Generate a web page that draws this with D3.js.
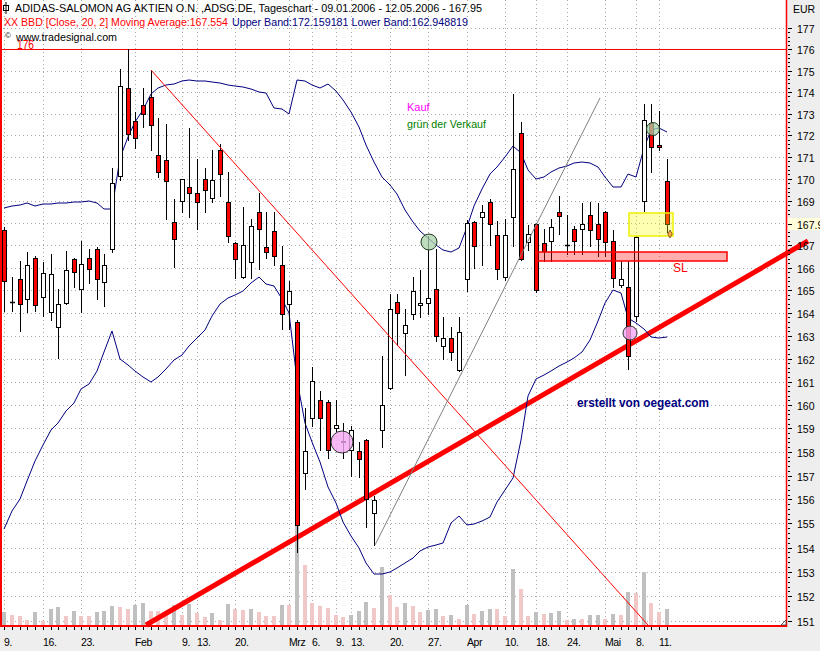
<!DOCTYPE html>
<html><head><meta charset="utf-8">
<script src="https://cdn.jsdelivr.net/npm/d3@7"></script>
<style>
body{margin:0;background:#eeeeee;}
svg{display:block;font-family:"Liberation Sans",Arial,sans-serif;}
</style>
</head><body>
<svg id="c" width="820" height="651"></svg>
<script>
// ---- data (trading days 09.01.2006 - 12.05.2006) ----
const opens = [167.7,164.5,165.5,164.6,166.45,164.7,164.06,163.4,164.45,166.4,
165.07,166.45,166.85,165.35,166.85,170.15,174.2,172.65,173.4,173.75,
171.1,170.85,168.05,168.97,169.65,169.35,169.97,169.15,171.3,168.95,
167.1,165.6,166.25,168.5,166.9,167.65,166.1,164.4,163.6,157.1,
159.45,160.2,160.15,159.0,158.45,158.1,158.03,158.5,155.45,158.95,
160.75,164.5,163.1,163.97,164.35,164.45,165.07,162.55,162.92,161.5,
165.5,168.05,168.25,168.95,167.45,165.6,168.25,172.1,167.15,167.95,
167.1,167.2,168.5,167.0,167.75,167.75,168.35,167.95,168.5,167.2,
165.25,165.15,163.85,168.97,172.55,171.55,169.9];
const highs = [167.8,165.6,166.3,166.7,166.5,166.25,166.6,165.07,166.75,166.45,
167.2,166.85,166.9,166.6,170.5,175.1,176.0,173.05,174.2,175.05,
172.8,172.5,169.1,170.0,172.35,170.9,170.5,171.3,171.6,170.3,
167.15,168.7,168.2,169.35,168.5,168.5,166.95,165.4,163.7,159.85,
161.65,160.6,160.2,160.2,159.25,159.1,158.4,158.55,156.15,162.1,
164.85,164.85,164.15,165.6,165.9,167.4,166.85,163.8,163.4,163.8,
168.15,168.1,168.8,169.1,168.1,168.2,173.9,172.6,167.9,168.0,
167.75,168.2,169.2,168.35,167.85,168.9,168.95,168.9,168.55,167.7,
166.3,166.3,167.4,173.45,173.45,173.1,170.9];
const lows = [164.1,164.1,163.2,164.05,164.1,163.85,163.7,162.03,164.4,165.15,
164.05,165.3,164.6,164.3,166.7,169.95,171.8,171.4,172.4,171.3,
170.1,168.2,166.05,168.5,168.25,167.75,168.5,168.95,169.2,167.15,
165.55,165.55,165.55,165.95,166.45,166.1,163.3,163.3,153.8,156.45,
159.1,158.1,157.75,158.9,157.75,157.0,156.95,154.85,154.1,158.2,
160.7,162.6,161.3,163.75,163.8,163.97,162.75,162.0,161.95,161.45,
164.95,166.0,166.1,167.0,165.5,165.45,166.95,166.35,166.8,164.93,
166.3,166.3,167.5,166.6,166.6,166.6,166.95,166.5,166.5,165.15,
165.15,161.55,163.65,168.55,170.3,171.3,167.6];
const closes = [165.4,164.5,164.4,166.1,164.35,165.75,165.7,164.4,165.9,165.8,
166.15,165.95,165.5,166.1,169.8,174.3,172.05,171.85,173.0,172.45,
170.3,169.9,167.3,169.97,169.35,168.95,169.5,169.93,170.2,167.4,
166.4,167.03,167.85,167.75,166.7,166.5,163.97,164.95,154.95,158.05,
161.05,159.45,158.1,159.15,158.4,158.95,157.7,156.0,155.97,159.98,
164.15,164.0,163.45,164.95,164.45,164.65,163.0,162.9,162.27,163.15,
168.0,166.95,168.5,167.95,165.95,167.45,170.45,166.4,167.5,165.0,
166.75,167.8,168.3,167.0,167.2,167.95,167.7,167.3,167.15,165.55,
165.5,162.1,167.35,172.7,171.45,171.45,167.95];
const volumes = [143,110,100,60,143,50,170,190,103,150,
103,100,143,153,200,187,167,207,233,153,
150,148,210,110,220,133,93,127,60,220,
170,160,170,143,103,100,213,210,1020,610,
233,200,183,110,93,110,153,240,183,593,
310,193,233,200,143,160,170,103,110,70,
210,120,153,170,165,103,570,370,100,137,
120,133,150,60,70,68,110,112,70,120,
110,340,333,540,227,143,170];
const upperBand = [168.68,168.77,168.83,168.9,168.77,168.84,168.87,168.89,168.9,168.93,
168.96,169.01,168.9,168.65,168.62,170.95,171.9,172.61,173.16,173.91,
174.19,174.35,174.37,174.53,174.54,174.53,174.51,174.48,174.42,174.35,
174.28,174.23,174.14,173.98,173.97,173.26,173.19,172.98,174.58,174.53,
174.35,174.17,174.36,174.05,173.63,173.07,172.37,171.54,170.76,170.08,
169.71,169.3,168.58,168.04,167.63,167.32,167.03,166.8,166.68,166.87,
167.81,168.76,169.53,170.24,170.53,170.99,171.52,171.17,170.4,169.99,
170.08,170.31,170.51,170.58,170.7,170.77,170.74,170.53,170.08,169.62,
169.63,170.21,170.09,171.4,172.24,172.31,172.16];
const lowerBand = [154.79,155.5,156.0,156.77,157.63,158.29,158.93,159.25,159.76,160.1,
160.67,160.92,161.48,162.28,163.22,162.0,161.73,161.46,161.19,161.0,
161.2,161.54,161.92,162.15,162.57,162.92,163.24,163.86,164.38,164.65,
164.8,164.98,165.33,165.58,165.27,165.2,164.63,163.99,161.07,159.21,
158.44,157.57,156.52,155.85,155.06,154.48,153.98,153.37,152.93,152.91,
152.98,153.16,153.37,153.59,153.86,154.02,154.11,154.17,155.0,155.29,
154.95,154.97,155.12,155.27,155.91,156.39,156.9,158.5,160.38,161.13,
161.31,161.46,161.7,161.87,162.04,162.3,162.83,163.66,164.45,165.02,
164.89,163.77,163.55,163.31,162.96,162.89,162.95];
const tickIdx = [0,5,10,17,23,25,30,37,40,43,45,50,55,60,65,69,73,78,82,85];
const tickLabels = ["9.","16.","23.","Feb","9.","13.","20.","Mrz","6.","9.","13.","20.","27.","Apr","10.","18.","24.","Mai","8.","11."];
const priceTicks = d3.range(151, 178);
const lastPrice = 167.95;
// drawn annotations: [dayIndex, price]
const downTrend = [[19, 175.05], [83.6, 150.85]];
const upTrend = [[18.44, 150.84], [104.3, 167.2]];
const grayTrend = [[48.1, 154.1], [77.3, 173.7]];
const buyMarks = [[43.77, 158.43, 11], [81.2, 163.13, 7]];
const sellMarks = [[55.14, 167.15, 8], [84.16, 172.28, 6.5]];
const slZone = [69.0, 93.8, 166.31, 166.71];
const yellowZone = [81.1, 86.75, 167.4, 168.45];
const hLine = 176;

// ---- scales ----
const x = d3.scaleLinear().domain([0, 86]).range([4.3, 666.9]).interpolate(d3.interpolateRound);
const y = d3.scaleLog().domain([151, 176]).range([621, 49.4]).interpolate(d3.interpolateRound);
const yv = d3.scaleLinear().domain([0, 1000]).range([626, 526]).interpolate(d3.interpolateRound);

const svg = d3.select("#c");
svg.append("rect").attr("width", 820).attr("height", 651).attr("fill", "#eeeeee");
svg.append("rect").attr("x", 2).attr("y", 0).attr("width", 784).attr("height", 625).attr("fill", "#ffffff");

// grid
const grid = svg.append("g").attr("stroke", "#a8a8a8").attr("stroke-dasharray", "1,3");
grid.selectAll("line.h").data(priceTicks).join("line")
  .attr("x1", 3).attr("x2", 786).attr("y1", d => y(d) + 0.5).attr("y2", d => y(d) + 0.5);
grid.selectAll("line.v").data(tickIdx).join("line")
  .attr("x1", d => x(d) + 0.5).attr("x2", d => x(d) + 0.5).attr("y1", 0).attr("y2", 625);

// volume
svg.append("g").selectAll("rect").data(volumes).join("rect")
  .attr("x", (d, i) => x(i) - 2).attr("width", 4)
  .attr("y", d => yv(d)).attr("height", d => 626 - yv(d))
  .attr("fill", (d, i) => (i === 0 || d > volumes[i - 1]) ? "#c0c0c0" : "#f0c8c8");

// 176 line
svg.append("line").attr("x1", 2).attr("x2", 786).attr("y1", y(hLine) + 0.5).attr("y2", y(hLine) + 0.5)
  .attr("stroke", "#ff0000").attr("stroke-width", 1);

// thick up trend
const lineXY = a => [x(a[0]), y(a[1])];
svg.append("line")
  .attr("x1", lineXY(upTrend[0])[0]).attr("y1", lineXY(upTrend[0])[1])
  .attr("x2", lineXY(upTrend[1])[0]).attr("y2", lineXY(upTrend[1])[1])
  .attr("stroke", "#ff0000").attr("stroke-width", 5);

// bands
const bandLine = d3.line().x((d, i) => x(i)).y(d => y(d));
svg.append("path").attr("d", bandLine(upperBand)).attr("fill", "none").attr("stroke", "#000080").attr("stroke-width", 1);
svg.append("path").attr("d", bandLine(lowerBand)).attr("fill", "none").attr("stroke", "#000080").attr("stroke-width", 1);

// candles
const cg = svg.append("g");
opens.forEach((o, i) => {
  const cx = x(i), c = closes[i];
  cg.append("line").attr("x1", cx + 0.5).attr("x2", cx + 0.5)
    .attr("y1", y(highs[i])).attr("y2", y(lows[i]) + 1).attr("stroke", "#000").attr("stroke-width", 1);
  const top = Math.min(y(o), y(c)), bot = Math.max(y(o), y(c));
  if (bot - top < 1) {
    cg.append("line").attr("x1", cx - 2).attr("x2", cx + 3).attr("y1", top + 0.5).attr("y2", top + 0.5)
      .attr("stroke", "#000").attr("stroke-width", 1.5);
  } else {
    cg.append("rect").attr("x", cx - 1.5).attr("y", top + 0.5).attr("width", 4).attr("height", bot - top)
      .attr("fill", c < o ? "#ff0000" : "#ffffff").attr("stroke", "#000").attr("stroke-width", 1);
  }
});

// markers (circles), semi-transparent over candles
svg.append("g").selectAll("circle").data(buyMarks).join("circle")
  .attr("cx", d => x(d[0])).attr("cy", d => y(d[1])).attr("r", d => d[2])
  .attr("fill", "#f4a8f4").attr("fill-opacity", 0.8).attr("stroke", "#303030").attr("stroke-width", 1);
svg.append("g").selectAll("circle").data(sellMarks).join("circle")
  .attr("cx", d => x(d[0])).attr("cy", d => y(d[1])).attr("r", d => d[2])
  .attr("fill", "#a8d0a8").attr("fill-opacity", 0.75).attr("stroke", "#203820").attr("stroke-width", 1);

// thin trend lines
[[downTrend, "#ff0000"], [grayTrend, "#808080"]].forEach(([t, col]) => {
  svg.append("line").attr("x1", x(t[0][0])).attr("y1", y(t[0][1])).attr("x2", x(t[1][0])).attr("y2", y(t[1][1]))
    .attr("stroke", col).attr("stroke-width", 1);
});

// zones
svg.append("rect").attr("x", x(slZone[0])).attr("y", y(slZone[3]))
  .attr("width", x(slZone[1]) - x(slZone[0])).attr("height", y(slZone[2]) - y(slZone[3]))
  .attr("fill", "#ff0000").attr("fill-opacity", 0.32).attr("stroke", "#ff0000").attr("stroke-width", 1.5);
svg.append("rect").attr("x", x(yellowZone[0])).attr("y", y(yellowZone[3]))
  .attr("width", x(yellowZone[1]) - x(yellowZone[0])).attr("height", y(yellowZone[2]) - y(yellowZone[3]))
  .attr("fill", "#ffff00").attr("fill-opacity", 0.3).attr("stroke", "#f0f000").attr("stroke-width", 1.5);
svg.append("path").attr("d", d3.symbol(d3.symbolDiamond, 18)())
  .attr("transform", `translate(${x(86.4)},${y(167.52)})`)
  .attr("fill", "#ffb040").attr("stroke", "#5a3000").attr("stroke-width", 0.7);

// frame
svg.append("line").attr("x1", 1).attr("x2", 1).attr("y1", 0).attr("y2", 627).attr("stroke", "#ff0000").attr("stroke-width", 2);
svg.append("line").attr("x1", 786.5).attr("x2", 786.5).attr("y1", 0).attr("y2", 627).attr("stroke", "#ff0000").attr("stroke-width", 1.5);
svg.append("line").attr("x1", 0).attr("x2", 787).attr("y1", 626).attr("y2", 626).attr("stroke", "#ff0000").attr("stroke-width", 2);
svg.append("path").attr("d", "M781,625L786,620L786,625Z").attr("fill", "#fff").attr("stroke", "#404040").attr("stroke-width", 0.8);

// right axis
const ra = svg.append("g").attr("transform", "translate(788,0)")
  .call(d3.axisRight(y).tickValues(priceTicks).tickSize(4).tickPadding(5).tickFormat(d3.format("d")));
ra.select(".domain").remove();
ra.selectAll("text").attr("font-size", 10.5).attr("font-family", "Liberation Sans, Arial, sans-serif").attr("dy", "0.45em");
svg.append("g").attr("stroke", "#000").selectAll("line").data(d3.range(151, 177.01, 0.2)).join("line")
  .attr("x1", 788).attr("x2", 790).attr("y1", d => y(d) + 0.5).attr("y2", d => y(d) + 0.5);
svg.append("rect").attr("x", 788).attr("y", y(lastPrice) - 6).attr("width", 32).attr("height", 12).attr("fill", "#ffffdc");
svg.append("line").attr("x1", 788).attr("x2", 792).attr("y1", y(lastPrice) + 0.5).attr("y2", y(lastPrice) + 0.5).attr("stroke", "#000");
svg.append("text").attr("x", 797).attr("y", y(lastPrice)).attr("dy", "0.45em").attr("font-size", 10.5).text(lastPrice.toFixed(2));
svg.append("text").attr("x", 793).attr("y", 12.5).attr("font-size", 10.5).text("EUR");

// bottom axis
const ba = svg.append("g").attr("transform", "translate(0,627)")
  .call(d3.axisBottom(x).tickValues(d3.range(opens.length)).tickSize(3).tickFormat(""));
ba.select(".domain").remove();
const bl = svg.append("g").attr("transform", "translate(0,627)")
  .call(d3.axisBottom(x).tickValues(tickIdx).tickSize(0).tickFormat((d, i) => tickLabels[i]));
bl.select(".domain").remove();
bl.selectAll("text").attr("text-anchor", "start").attr("x", -0.5).attr("y", 19).attr("dy", null)
  .attr("font-size", 10.5).attr("letter-spacing", "-0.4px").attr("font-family", "Liberation Sans, Arial, sans-serif");

// header
svg.append("rect").attr("x", 3.5).attr("y", 5.5).attr("width", 5).attr("height", 5).attr("fill", "none").attr("stroke", "#000");
svg.append("line").attr("x1", 6).attr("x2", 6).attr("y1", 2).attr("y2", 14).attr("stroke", "#000");
svg.append("text").attr("x", 15).attr("y", 12).attr("font-size", 11).attr("textLength", 467).attr("lengthAdjust", "spacingAndGlyphs")
  .text("ADIDAS-SALOMON AG AKTIEN O.N. ,ADSG.DE, Tageschart - 09.01.2006 - 12.05.2006 - 167.95");
svg.append("text").attr("x", 4).attr("y", 26).attr("font-size", 11).attr("fill", "#ff0000").attr("textLength", 224).attr("lengthAdjust", "spacingAndGlyphs")
  .text("XX BBD [Close, 20, 2] Moving Average:167.554");
svg.append("text").attr("x", 232).attr("y", 26).attr("font-size", 11).attr("fill", "#000080").attr("textLength", 236).attr("lengthAdjust", "spacingAndGlyphs")
  .text("Upper Band:172.159181 Lower Band:162.948819");
svg.append("text").attr("x", 5).attr("y", 38).attr("font-size", 8).text("©");
svg.append("text").attr("x", 16).attr("y", 41).attr("font-size", 11).attr("textLength", 101).attr("lengthAdjust", "spacingAndGlyphs").text("www.tradesignal.com");
svg.append("text").attr("x", 17).attr("y", 49).attr("font-size", 12).attr("fill", "#ff0000").attr("textLength", 17).attr("lengthAdjust", "spacingAndGlyphs").text("176");

// annotations
svg.append("text").attr("x", 407).attr("y", 110.5).attr("font-size", 11).attr("fill", "#ff00ff").text("Kauf");
svg.append("text").attr("x", 407).attr("y", 127.5).attr("font-size", 11).attr("fill", "#008000").attr("textLength", 79).attr("lengthAdjust", "spacingAndGlyphs").text("grün der Verkauf");
svg.append("text").attr("x", 673).attr("y", 272).attr("font-size", 12).attr("fill", "#ff0000").text("SL");
svg.append("text").attr("x", 577).attr("y", 407).attr("font-size", 12).attr("font-weight", "bold").attr("fill", "#000080").attr("textLength", 132).attr("lengthAdjust", "spacingAndGlyphs").text("erstellt von oegeat.com");
</script>
</body></html>
